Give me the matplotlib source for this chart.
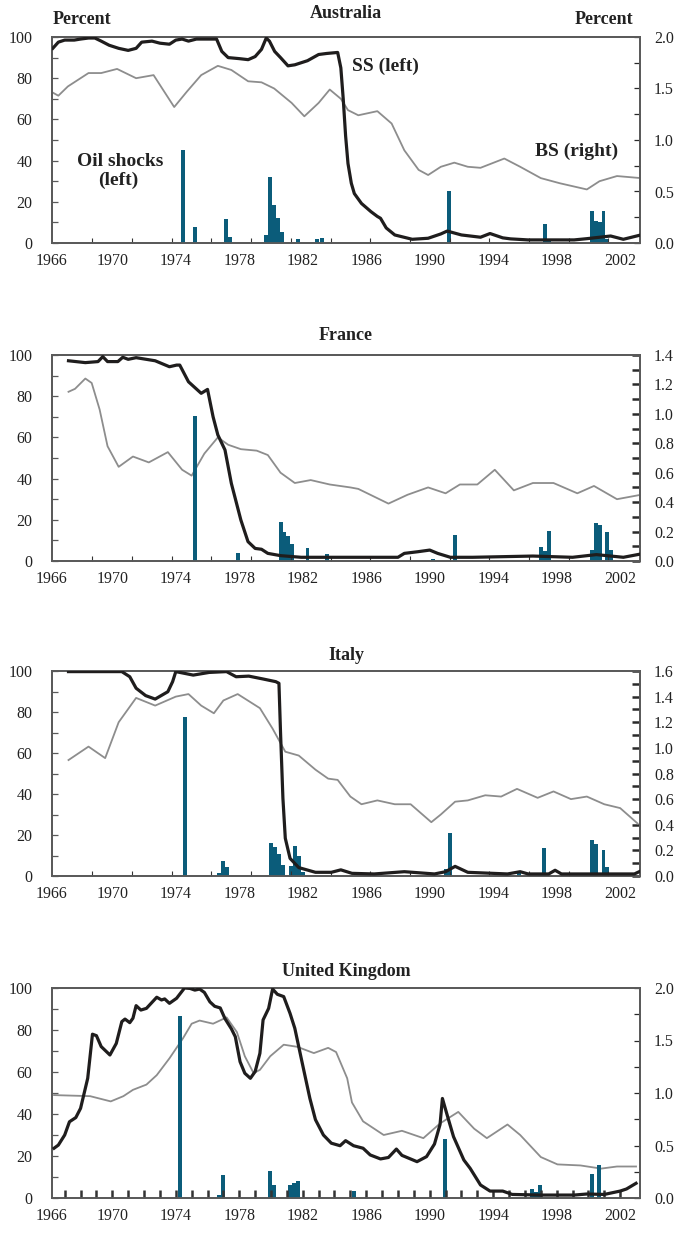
import matplotlib
matplotlib.use("Agg")
import matplotlib.pyplot as plt
from matplotlib.ticker import FixedLocator, MultipleLocator, FormatStrFormatter
import numpy as np

plt.rcParams['font.family'] = ['Liberation Serif', 'DejaVu Serif']

# ---------------- data ----------------
year_labels = [1966, 1970, 1974, 1978, 1982, 1986, 1990, 1994, 1998, 2002]

# Australia
aus_ss_years = [1966.25, 1966.6, 1967.0, 1967.6, 1968.0, 1968.5, 1968.9, 1969.3, 1969.8, 1970.4,
                1971.0, 1971.5, 1971.85, 1972.5, 1973.0, 1973.6, 1974.0, 1974.4, 1974.8, 1975.3,
                1976.0, 1976.57, 1976.9, 1977.3, 1978.0, 1978.56, 1979.0, 1979.4, 1979.7, 1979.9,
                1980.23, 1980.6, 1981.07, 1981.5, 1982.3, 1983.0, 1983.5, 1984.2, 1984.4, 1984.55,
                1984.7, 1984.85, 1985.06, 1985.25, 1985.7, 1986.3, 1986.7, 1986.9, 1987.26, 1987.8,
                1988.9, 1989.9, 1990.7, 1991.1, 1992.0, 1993.2, 1993.8, 1994.6, 1995.1, 1996.2,
                1999.1, 1999.9, 2001.4, 2002.2, 2003.3]
aus_ss = [94.5, 97.5, 98.5, 98.5, 99.0, 99.5, 99.5, 98.0, 96.0, 94.5,
          93.5, 94.5, 97.5, 98.0, 97.0, 96.5, 98.5, 99.0, 98.0, 99.0,
          99.0, 99.0, 93.0, 90.0, 89.5, 89.0, 90.5, 94.0, 99.5, 98.0,
          93.0, 90.0, 86.0, 86.5, 88.5, 91.5, 92.0, 92.5, 85.0, 70.0,
          52.0, 38.6, 29.0, 24.0, 19.2, 15.2, 12.9, 12.0, 7.3, 3.9,
          1.8, 2.3, 4.4, 5.8, 3.9, 2.8, 4.6, 2.5, 2.0, 1.5,
          1.5, 2.1, 3.4, 1.8, 3.9]
aus_bs_years = [1966.25, 1966.6, 1967.2, 1968.5, 1969.3, 1970.3, 1971.5, 1972.6, 1973.9, 1974.7,
                1975.6, 1976.65, 1977.5, 1978.56, 1979.4, 1980.2, 1981.3, 1982.1, 1983.0, 1983.7,
                1984.4, 1984.85, 1985.5, 1986.7, 1987.6, 1988.4, 1989.3, 1989.9, 1990.7, 1991.55,
                1992.4, 1993.2, 1994.7, 1995.7, 1997.0, 1998.2, 1999.9, 2000.7, 2001.8, 2003.3]
aus_bs = [1.46, 1.43, 1.52, 1.65, 1.65, 1.69, 1.60, 1.63, 1.32, 1.47,
          1.63, 1.72, 1.68, 1.57, 1.56, 1.50, 1.36, 1.23, 1.36, 1.49,
          1.40, 1.29, 1.24, 1.28, 1.16, 0.90, 0.71, 0.66, 0.74, 0.78,
          0.74, 0.73, 0.82, 0.74, 0.63, 0.58, 0.52, 0.60, 0.65, 0.63]
aus_oil_years = [1974.43, 1975.18, 1977.17, 1977.43, 1979.7, 1979.95, 1980.2, 1980.45, 1980.7, 1981.7,
                 1982.9, 1983.2, 1991.2, 1997.26, 1997.5, 2000.2, 2000.45, 2000.7, 2000.95, 2001.2]
aus_oil = [45.0, 7.6, 11.5, 2.8, 3.9, 32.2, 18.5, 12.0, 5.5, 2.0,
           2.0, 2.6, 25.2, 9.2, 2.0, 15.5, 10.9, 10.4, 15.5, 1.8]

# France
fra_ss_years = [1967.24, 1968.3, 1969.1, 1969.4, 1969.7, 1970.35, 1970.66, 1971.0, 1971.5, 1972.7,
                1973.6, 1974.05, 1974.25, 1974.8, 1975.6, 1976.0, 1976.35, 1976.65, 1977.1, 1977.5,
                1977.8, 1978.1, 1978.55, 1979.0, 1979.4, 1979.8, 1980.6, 1981.9, 1983.3, 1985.5,
                1988.0, 1988.4, 1989.25, 1990.0, 1990.5, 1991.3, 1992.7, 1996.5, 1999.0, 2000.5,
                2002.2, 2003.3]
fra_ss = [97.2, 96.3, 96.8, 99.2, 96.8, 96.8, 98.9, 97.9, 98.7, 97.2,
          94.3, 95.1, 95.1, 87.0, 81.4, 83.3, 70.0, 61.2, 53.9, 37.7,
          28.8, 19.9, 9.4, 6.1, 5.7, 3.7, 2.6, 1.8, 1.8, 1.8,
          1.8, 3.7, 4.5, 5.3, 3.7, 1.8, 1.8, 2.4, 1.8, 3.1,
          1.8, 3.4]
fra_bs_years = [1967.24, 1967.65, 1968.3, 1968.7, 1969.2, 1969.7, 1970.4, 1971.3, 1972.3, 1973.5,
                1974.4, 1975.0, 1975.8, 1976.65, 1977.3, 1978.1, 1979.1, 1979.8, 1980.6, 1981.5,
                1982.5, 1983.7, 1985.0, 1985.5, 1987.4, 1988.6, 1989.9, 1991.0, 1991.9, 1993.0,
                1994.1, 1995.3, 1996.5, 1997.8, 1999.3, 2000.35, 2001.8, 2003.3]
fra_bs = [1.15, 1.17, 1.24, 1.21, 1.03, 0.78, 0.64, 0.71, 0.67, 0.74,
          0.62, 0.58, 0.73, 0.84, 0.79, 0.76, 0.75, 0.72, 0.60, 0.53,
          0.55, 0.52, 0.50, 0.49, 0.39, 0.45, 0.50, 0.46, 0.52, 0.52,
          0.62, 0.48, 0.53, 0.53, 0.46, 0.51, 0.42, 0.45]
fra_oil_years = [1975.2, 1977.9, 1980.6, 1980.85, 1981.1, 1981.35, 1982.3, 1983.5, 1990.2, 1991.6,
                 1997.0, 1997.25, 1997.5, 2000.2, 2000.45, 2000.7, 2001.2, 2001.45]
fra_oil = [70.4, 4.0, 18.9, 14.1, 12.1, 8.2, 6.3, 3.4, 1.0, 12.7,
           6.8, 4.9, 14.6, 5.3, 18.4, 17.5, 14.1, 5.3]

# Italy
ita_ss_years = [1967.24, 1970.6, 1971.1, 1971.5, 1972.1, 1972.7, 1973.5, 1973.8, 1974.0, 1975.1,
                1976.1, 1977.2, 1977.8, 1978.6, 1979.5, 1980.3, 1980.5, 1980.6, 1980.75, 1980.9,
                1981.2, 1981.75, 1982.8, 1983.8, 1984.4, 1985.1, 1986.5, 1988.4, 1990.3, 1991.0,
                1991.6, 1992.4, 1994.9, 1995.7, 1996.2, 1997.5, 1997.9, 1998.3, 2001.3, 2002.9,
                2003.2]
ita_ss = [99.7, 99.7, 97.2, 91.6, 88.0, 86.3, 89.9, 94.8, 99.7, 98.0,
          99.3, 99.7, 97.2, 97.5, 96.1, 94.8, 94.0, 70.0, 37.9, 18.4,
          8.6, 4.1, 1.8, 1.8, 3.0, 1.3, 1.0, 2.1, 1.0, 2.1,
          4.7, 1.8, 1.0, 2.1, 1.0, 1.0, 2.8, 1.0, 1.0, 1.0,
          2.1]
ita_bs_years = [1967.24, 1968.5, 1969.55, 1970.4, 1971.5, 1972.7, 1974.0, 1974.8, 1975.6, 1976.4,
                1977.0, 1977.9, 1979.3, 1980.1, 1980.9, 1981.75, 1982.8, 1983.6, 1984.2, 1985.0,
                1985.7, 1986.7, 1987.8, 1988.8, 1990.1, 1990.7, 1991.6, 1992.4, 1993.5, 1994.5,
                1995.5, 1996.8, 1997.8, 1998.9, 1999.9, 2001.0, 2002.0, 2003.1]
ita_bs = [0.905, 1.01, 0.92, 1.20, 1.39, 1.33, 1.40, 1.42, 1.33, 1.27,
          1.37, 1.42, 1.31, 1.15, 0.97, 0.94, 0.83, 0.76, 0.75, 0.62,
          0.56, 0.59, 0.56, 0.56, 0.42, 0.48, 0.58, 0.59, 0.63, 0.62,
          0.68, 0.61, 0.66, 0.60, 0.62, 0.56, 0.53, 0.41]
ita_oil_years = [1974.55, 1976.7, 1976.95, 1977.25, 1980.0, 1980.25, 1980.5, 1980.75, 1981.25, 1981.5,
                 1981.75, 1982.0, 1991.0, 1991.25, 1995.6, 1996.95, 1997.2, 2000.2, 2000.45, 2000.95,
                 2001.2]
ita_oil = [77.7, 1.6, 7.3, 4.5, 16.3, 14.3, 10.7, 5.4, 4.9, 14.6,
           9.7, 2.0, 3.3, 20.8, 1.8, 1.5, 13.9, 17.6, 15.7, 12.8,
           4.2]

# United Kingdom
uk_ss_years = [1966.33, 1966.6, 1967.0, 1967.3, 1967.7, 1968.0, 1968.45, 1968.75, 1969.0, 1969.3,
               1969.85, 1970.25, 1970.6, 1970.8, 1971.1, 1971.3, 1971.5, 1971.8, 1972.15, 1972.8,
               1973.1, 1973.3, 1973.6, 1974.05, 1974.55, 1974.9, 1975.2, 1975.5, 1975.8, 1976.15,
               1976.45, 1976.8, 1977.1, 1977.5, 1977.75, 1978.05, 1978.35, 1978.7, 1979.0, 1979.3,
               1979.5, 1979.85, 1980.1, 1980.4, 1980.8, 1981.2, 1981.5, 1981.95, 1982.45, 1982.8,
               1983.3, 1983.8, 1984.35, 1984.7, 1985.2, 1985.8, 1986.25, 1986.9, 1987.4, 1987.9,
               1988.25, 1989.2, 1989.8, 1990.3, 1990.65, 1990.8, 1991.1, 1991.5, 1992.15, 1992.55,
               1993.2, 1993.8, 1994.6, 1995.2, 1997.0, 1999.1, 1999.9, 2001.0, 2002.0, 2002.4,
               2003.0]
uk_ss = [23.7, 25.2, 30.0, 36.3, 38.3, 42.7, 57.0, 78.0, 77.3, 72.1,
         68.1, 73.6, 84.0, 85.2, 83.5, 85.6, 91.6, 89.5, 90.3, 95.6,
         94.3, 94.8, 92.7, 95.1, 100.0, 99.8, 99.0, 99.5, 97.9, 93.4,
         91.3, 90.5, 85.4, 80.6, 76.8, 64.9, 59.4, 57.0, 60.2, 68.9,
         84.8, 90.3, 99.5, 97.0, 95.9, 87.9, 80.8, 64.9, 47.4, 37.3,
         30.0, 26.1, 24.9, 27.3, 24.9, 23.7, 20.5, 18.6, 19.3, 23.3,
         20.3, 17.3, 19.7, 25.7, 35.0, 47.4, 39.5, 29.2, 18.1, 14.1,
         6.2, 3.3, 3.3, 1.7, 1.4, 1.4, 1.9, 1.7, 3.3, 4.3,
         7.0]
uk_bs_years = [1966.33, 1968.6, 1969.9, 1970.7, 1971.3, 1972.15, 1972.8, 1973.6, 1974.45, 1975.0,
               1975.5, 1976.35, 1977.2, 1977.85, 1978.35, 1978.9, 1979.3, 1979.95, 1980.8, 1981.65,
               1982.7, 1983.6, 1984.1, 1984.8, 1985.1, 1985.8, 1987.1, 1988.25, 1989.6, 1990.65,
               1991.8, 1992.8, 1993.6, 1994.9, 1995.7, 1997.0, 1998.05, 1999.5, 2000.8, 2001.8,
               2003.0]
uk_bs = [0.98, 0.97, 0.92, 0.97, 1.03, 1.08, 1.17, 1.33, 1.52, 1.66,
         1.69, 1.66, 1.72, 1.58, 1.35, 1.19, 1.22, 1.35, 1.46, 1.44,
         1.38, 1.43, 1.39, 1.14, 0.91, 0.73, 0.60, 0.64, 0.57, 0.71,
         0.82, 0.66, 0.57, 0.70, 0.60, 0.39, 0.32, 0.31, 0.28, 0.30,
         0.30]
uk_oil_years = [1974.25, 1976.75, 1977.0, 1979.95, 1980.2, 1981.2, 1981.45, 1981.7, 1985.25, 1990.95,
                1996.45, 1996.7, 1996.95, 2000.2, 2000.65]
uk_oil = [86.7, 1.4, 10.9, 12.8, 6.1, 6.1, 7.1, 8.0, 3.3, 28.1,
          4.3, 2.7, 6.2, 11.4, 15.7]

# ---------------- styling ----------------
SS_COLOR = '#1f1d1d'
BS_COLOR = '#8d8d8d'
BAR_COLOR = '#0b5c7a'
SPINE = '#5a5a5a'
TXT = '#222222'
W, H = 685, 1236
X0, X1 = 1966.2, 2003.25

fig = plt.figure(figsize=(W / 100, H / 100), dpi=100)


def add_panel(top, bottom):
    left, right = 52, 640
    return fig.add_axes([left / W, 1 - bottom / H, (right - left) / W, (bottom - top) / H])


def draw(ax, title, title_dy, ss_x, ss_y, bs_x, bs_y, oil_x, oil_y,
         rmax, rstep, rminor, xminor, xtick_w, xtick_len, rtick_w, rtick_len):
    ax2 = ax.twinx()
    ax.set_zorder(ax2.get_zorder() + 1)
    ax.patch.set_visible(False)

    ax.bar(oil_x, oil_y, width=0.25, color=BAR_COLOR, linewidth=0, zorder=1)
    ax.plot(ss_x, ss_y, color=SS_COLOR, lw=2.3, zorder=3, solid_joinstyle='round')
    ax2.plot(bs_x, bs_y, color=BS_COLOR, lw=1.3, solid_joinstyle='round')

    ax.set_xlim(X0, X1)
    ax.set_ylim(0, 100)
    ax2.set_ylim(0, rmax)

    for a in (ax, ax2):
        for s in a.spines.values():
            s.set_color(SPINE)
            s.set_linewidth(1.3)

    # x axis: labels without marks, small inside marks elsewhere
    pos = [X0] + year_labels[1:]
    ax.xaxis.remove_overlapping_locs = False
    ax.xaxis.set_major_locator(FixedLocator(pos))
    ax.set_xticklabels([str(y) for y in year_labels])
    ax.xaxis.set_minor_locator(FixedLocator(xminor))
    ax.tick_params(axis='x', which='major', length=0, pad=7, labelsize=11.5, labelcolor=TXT)
    ax.tick_params(axis='x', which='minor', direction='in', length=xtick_len,
                   width=xtick_w, color='#333333')

    ax.yaxis.set_major_locator(MultipleLocator(20))
    ax.yaxis.set_minor_locator(MultipleLocator(10))
    ax.tick_params(axis='y', which='both', direction='in', length=4, width=0.9,
                   color=SPINE, pad=14, labelsize=11.5, labelcolor=TXT)

    ax2.yaxis.set_major_locator(MultipleLocator(rstep))
    ax2.yaxis.set_minor_locator(MultipleLocator(rminor))
    ax2.yaxis.set_major_formatter(FormatStrFormatter('%.1f'))
    ax2.tick_params(axis='y', which='both', direction='in', length=rtick_len,
                    width=rtick_w, color='#2a2a2a', pad=10, labelsize=11.5, labelcolor=TXT)

    ax.annotate(title, xy=(0.5, 1), xycoords='axes fraction', xytext=(0, title_dy * 0.72),
                textcoords='offset points', ha='center', va='center',
                fontsize=13, fontweight='bold', color=TXT)
    return ax2


ax_aus = add_panel(37, 243)
ax_fra = add_panel(355, 561)
ax_ita = add_panel(671, 876)
ax_uk = add_panel(988, 1198)

quarter_marks = list(np.arange(1968.75, 2003, 2.5))
uk_marks = list(range(1967, 2003))

draw(ax_aus, 'Australia', 23, aus_ss_years, aus_ss, aus_bs_years, aus_bs, aus_oil_years, aus_oil,
     2.0, 0.5, 0.25, quarter_marks, 0.8, 3.5, 0.9, 4)
draw(ax_fra, 'France', 20, fra_ss_years, fra_ss, fra_bs_years, fra_bs, fra_oil_years, fra_oil,
     1.4, 0.2, 0.1, quarter_marks, 0.8, 3.5, 1.8, 6)
draw(ax_ita, 'Italy', 15, ita_ss_years, ita_ss, ita_bs_years, ita_bs, ita_oil_years, ita_oil,
     1.6, 0.2, 0.1, quarter_marks, 0.8, 3.5, 1.8, 6)
draw(ax_uk, 'United Kingdom', 16, uk_ss_years, uk_ss, uk_bs_years, uk_bs, uk_oil_years, uk_oil,
     2.0, 0.5, 0.25, uk_marks, 1.8, 6, 0.9, 4.5)


# Australia panel annotations (pixel positions -> figure fraction)
def ftext(x, y, s, **kw):
    fig.text(x / W, 1 - y / H, s, ha='center', va='center', color=TXT, **kw)


ftext(82, 20, 'Percent', fontsize=13, fontweight='bold')
ftext(604, 20, 'Percent', fontsize=13, fontweight='bold')
ftext(385, 66, 'SS (left)', fontsize=14, fontweight='bold')
ftext(577, 151, 'BS (right)', fontsize=14, fontweight='bold')
ftext(120, 162, 'Oil shocks', fontsize=14, fontweight='bold')
ftext(118, 180, '(left)', fontsize=14, fontweight='bold')

fig.savefig('out.png', dpi=100)
